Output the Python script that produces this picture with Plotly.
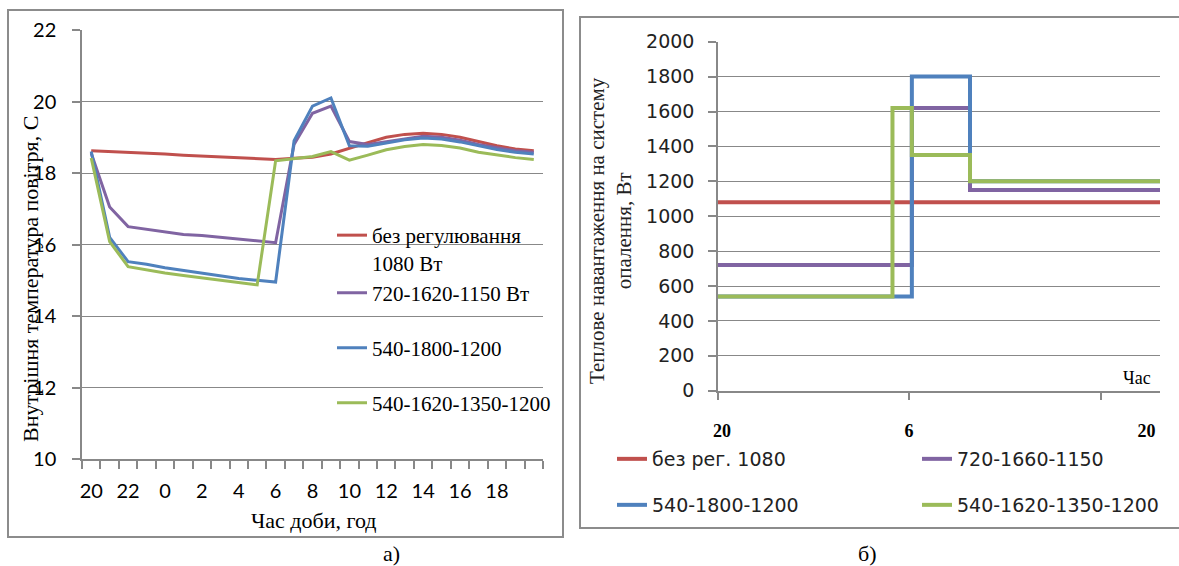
import plotly.graph_objects as go

W, H = 1179, 566

# ---------- Panel a) : inner air temperature ----------
hours_a = [20, 21, 22, 23, 0, 1, 2, 3, 4, 5, 6, 7, 8, 9, 10, 11, 12, 13, 14, 15, 16, 17, 18, 19, 20]
temp_no_reg = [18.62, 18.60, 18.58, 18.57, 18.53, 18.50, 18.48, 18.45, 18.42, 18.40, 18.38, 18.41, 18.44,
               18.53, 18.70, 18.85, 19.00, 19.08, 19.11, 19.08, 19.00, 18.88, 18.76, 18.67, 18.62]
temp_720 = [18.55, 17.05, 16.50, 16.43, 16.35, 16.28, 16.25, 16.20, 16.15, 16.10, 16.05, 18.80, 19.67,
            19.87, 18.88, 18.80, 18.88, 18.97, 19.03, 19.00, 18.92, 18.80, 18.70, 18.62, 18.58]
temp_540_1800 = [18.60, 16.20, 15.52, 15.45, 15.35, 15.27, 15.20, 15.12, 15.05, 15.00, 14.95, 18.90, 19.87,
                 20.10, 18.76, 18.75, 18.85, 18.93, 18.98, 18.95, 18.87, 18.76, 18.66, 18.58, 18.53]
temp_540_1620 = [18.42, 16.08, 15.38, 15.28, 15.20, 15.13, 15.07, 15.00, 14.93, 14.87, 18.34, 18.40, 18.46,
                 18.60, 18.36, 18.50, 18.65, 18.74, 18.80, 18.77, 18.70, 18.58, 18.50, 18.43, 18.38]
names_a = ["без регулювання<br>1080 Вт", "720-1620-1150 Вт", "540-1800-1200", "540-1620-1350-1200"]

# ---------- Panel b) : heating load (step schedule) ----------
t_hours = [0, 9, 10, 13, 22.8]          # hours counted from 20:00
load_no_reg = [1080, 1080, 1080, 1080, 1080]
load_720 = [720, 720, 1620, 1150, 1150]
load_540_1800 = [540, 540, 1800, 1200, 1200]
load_540_1620 = [540, 1620, 1350, 1200, 1200]
names_b = ["без рег. 1080", "720-1660-1150", "540-1800-1200", "540-1620-1350-1200"]
ticks_b = ["20", "6", "20"]

colors = ["#C0504D", "#8064A2", "#4F81BD", "#9BBB59"]

fig = go.Figure()
x_idx = list(range(len(hours_a)))
series_a = [temp_no_reg, temp_720, temp_540_1800, temp_540_1620]
for i, (s, n) in enumerate(zip(series_a, names_a)):
    fig.add_trace(go.Scatter(x=x_idx, y=s, mode="lines", name=n,
                             line=dict(color=colors[i], width=3),
                             xaxis="x", yaxis="y",
                             legend="legend" if i == 0 else f"legend{i+1}"))

series_b = [load_no_reg, load_720, load_540_1800, load_540_1620]
for i, (s, n) in enumerate(zip(series_b, names_b)):
    fig.add_trace(go.Scatter(x=t_hours, y=s, mode="lines", name=n, line_shape="hv",
                             line=dict(color=colors[i], width=4),
                             xaxis="x2", yaxis="y2", legend=f"legend{i+5}"))

GRID = "#888888"
serif = "Liberation Serif"

def px(x):
    return x / W

def py(y):
    return (H - y) / H

fig.update_layout(
    template="none",
    width=W, height=H,
    margin=dict(l=0, r=0, t=0, b=0, pad=0),
    paper_bgcolor="white", plot_bgcolor="white",
    showlegend=True,
    xaxis=dict(domain=[px(82), px(543)], range=[-0.5, 24.5], anchor="y", automargin=False,
               tickmode="array", tickvals=x_idx[0:24:2],
               ticktext=[str(h) for h in hours_a[0:24:2]],
               ticks="", showgrid=False, zeroline=False,
               showline=True, linecolor=GRID, linewidth=1.5,
               minor=dict(tickmode="array", tickvals=[i - 0.5 for i in range(26)],
                          ticks="outside", ticklen=8, tickcolor=GRID, tickwidth=1.5, showgrid=False),
               tickfont=dict(family="Lato", size=20, color="black"),
               ticklabelstandoff=13),
    yaxis=dict(domain=[py(459), py(30)], range=[10, 22], dtick=2, anchor="x", automargin=False,
               showgrid=True, gridcolor=GRID, gridwidth=1.3, zeroline=False,
               showline=True, linecolor=GRID, linewidth=1.5,
               ticks="outside", ticklen=8, tickcolor=GRID, tickwidth=1.5,
               tickfont=dict(family="Lato", size=20, color="black"),
               ticklabelstandoff=12),
    xaxis2=dict(domain=[px(718), px(1160)], range=[0, 22.8], anchor="y2", automargin=False,
                tickmode="array", tickvals=[0.2, 9.85, 22.1], ticktext=ticks_b,
                ticks="", showgrid=False, zeroline=False,
                showline=True, linecolor=GRID, linewidth=1.5,
                minor=dict(tickmode="array", tickvals=[0, 9.84, 19.75],
                           ticks="outside", ticklen=8, tickcolor=GRID, tickwidth=1.5, showgrid=False),
                tickfont=dict(family=serif, size=18, color="black", weight="bold"),
                ticklabelstandoff=23),
    yaxis2=dict(domain=[py(390.7), py(41.7)], range=[0, 2000], dtick=200, anchor="x2", automargin=False,
                showgrid=True, gridcolor=GRID, gridwidth=1.3, zeroline=False,
                showline=True, linecolor=GRID, linewidth=1.5,
                ticks="outside", ticklen=8, tickcolor=GRID, tickwidth=1.5,
                tickfont=dict(family="DejaVu Sans", size=19, color="#222222"),
                ticklabelstandoff=10),
)

# legends for panel a)
leg_a_y = [249, 293, 348, 403]
for i, yy in enumerate(leg_a_y):
    key = "legend" if i == 0 else f"legend{i+1}"
    fig.update_layout({key: dict(x=px(372 - 40), y=py(yy), xanchor="left", yanchor="middle",
                                 valign="top", bgcolor="rgba(0,0,0,0)",
                                 font=dict(family=serif, size=21, color="black"))})
# legends for panel b)
leg_b_pos = [(652, 459), (957, 459), (652, 505), (957, 505)]
for i, (xx, yy) in enumerate(leg_b_pos):
    fig.update_layout({f"legend{i+5}": dict(x=px(xx - 40), y=py(yy), xanchor="left", yanchor="middle",
                                            bgcolor="rgba(0,0,0,0)",
                                            font=dict(family="DejaVu Sans", size=19, color="#222222"))})

ann = [
    dict(text="Внутрішня температура повітря, С", x=px(30), y=py(279), textangle=-90,
         font=dict(family=serif, size=22, color="black")),
    dict(text="Час доби, год", x=px(313.5), y=py(520), font=dict(family=serif, size=22, color="black")),
    dict(text="а)", x=px(392), y=py(553), font=dict(family=serif, size=22, color="black")),
    dict(text="Теплове навантаження на систему<br>опалення, Вт", x=px(610), y=py(231), textangle=-90,
         font=dict(family=serif, size=21, color="#222222")),
    dict(text="Час", x=px(1137), y=py(378), font=dict(family=serif, size=18, color="black")),
    dict(text="б)", x=px(867), y=py(553), font=dict(family=serif, size=22, color="black")),
]
for a in ann:
    a.update(xref="paper", yref="paper", showarrow=False, xanchor="center", yanchor="middle")
fig.update_layout(annotations=ann)

fig.update_layout(shapes=[
    dict(type="rect", xref="paper", yref="paper", x0=px(8), x1=px(563), y0=py(537), y1=py(10),
         line=dict(color="#8C8C8C", width=2)),
    dict(type="rect", xref="paper", yref="paper", x0=px(580), x1=1.02, y0=py(528), y1=py(17),
         line=dict(color="#8C8C8C", width=2)),
])

fig.write_html("out.html", config={"displayModeBar": False},
               post_script="document.body.style.margin='0';document.body.style.overflow='hidden';")
